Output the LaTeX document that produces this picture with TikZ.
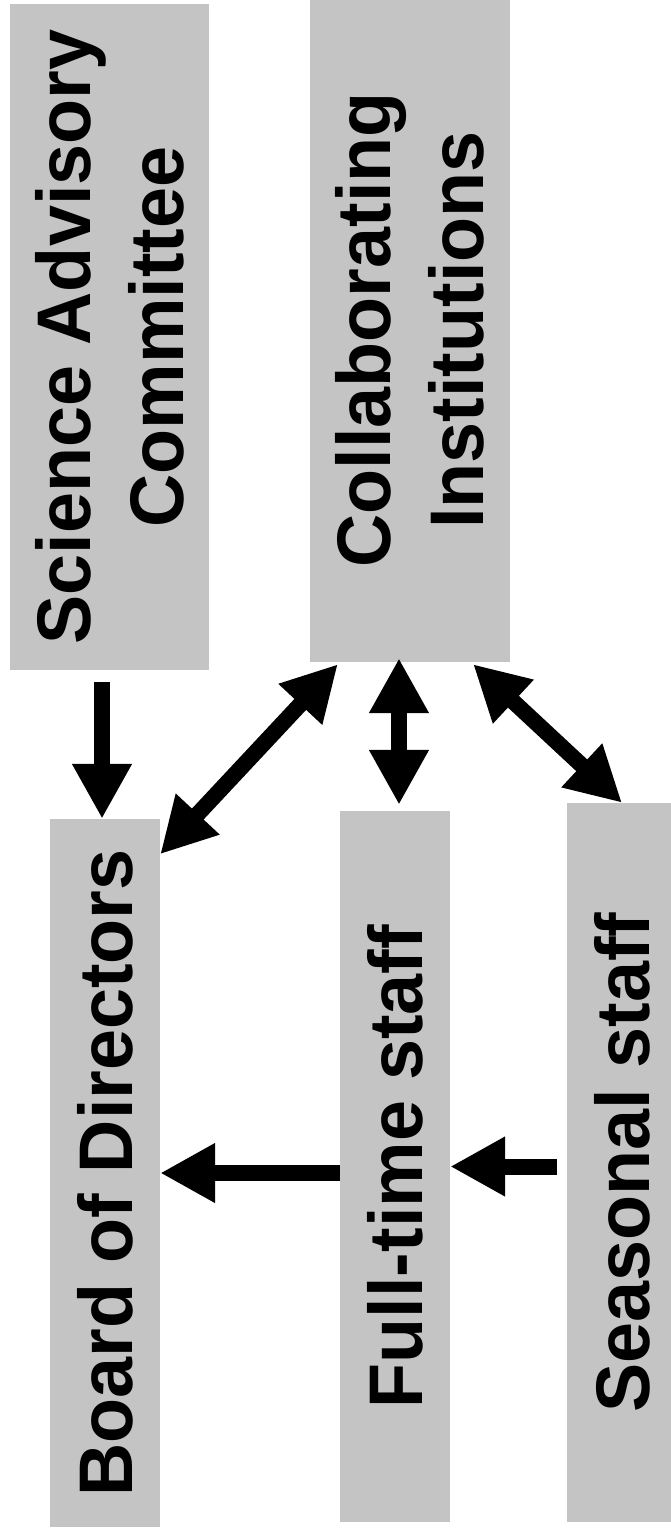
\documentclass[tikz,border=0pt]{standalone}
\usepackage{fontspec}
\setmainfont{Liberation Sans}[FakeStretch=0.97]
\usetikzlibrary{arrows.meta,calc}
\definecolor{boxgray}{RGB}{196,196,196}
\begin{document}
\begin{tikzpicture}[x=1pt,y=-1pt,
  box/.style={fill=boxgray, rotate=90, inner sep=0pt, align=center,
    font=\fontsize{76}{93}\selectfont\bfseries},
  arr/.style={line width=16pt, -{Triangle[length=55pt,width=56pt]}},
  dbl/.style={line width=16pt, {Triangle[length=55pt,width=56pt]}-{Triangle[length=55pt,width=56pt]}}]
\useasboundingbox (0,0) rectangle (670,1533);
\fill[white] (0,0) rectangle (670,1533);
% boxes (rotated: width = page height, height = page width)
\node[box, minimum width=666pt, minimum height=199pt] (sac) at (109.5,337) {Science Advisory\\Committee};
\node[box, minimum width=664pt, minimum height=200pt] (ci) at (410,330) {Collaborating\\Institutions};
\node[box, minimum width=708pt, minimum height=110pt] (bod) at (105,1173) {Board of Directors};
\node[box, minimum width=711pt, minimum height=110pt] (ft) at (395,1166.5) {Full-time staff};
\node[box, minimum width=719pt, minimum height=110pt] (ss) at (622,1162.5) {Seasonal staff};
% connectors
\draw[arr] ($(sac.west)+(-7.5,12)$) -- ($(bod.east)+(-3,0)$);
\draw[dbl] ($(ci.north west)!0.14!(ci.south west)+(0,2)$) -- ($(bod.south east)!0.05!(bod.south west)$);
\draw[dbl] ($(ci.north west)!0.445!(ci.south west)+(0,-4)$) coordinate (c2) -- ($(c2 |- ft.east)+(0,-6)$);
\draw[dbl] ($(ci.north west)!0.815!(ci.south west)+(0,2)$) -- (ss.east);
\draw[arr] (bod.south -| ft.north) -- (bod.south);
\draw[arr] ($(ss.north |- ft.south)+(-10,0)$) -- (ft.south);
\end{tikzpicture}
\end{document}
